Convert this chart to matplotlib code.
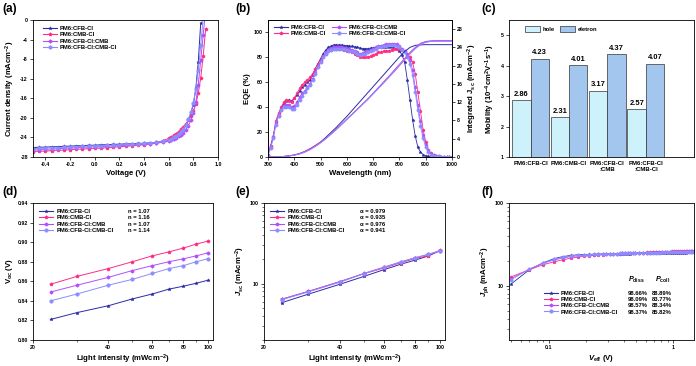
import matplotlib
matplotlib.use("Agg")
import matplotlib.pyplot as plt
from matplotlib.legend import Legend
from matplotlib.lines import Line2D
from matplotlib.ticker import FixedLocator, FormatStrFormatter, NullFormatter

plt.rcParams.update({
    "font.family": ["Liberation Sans", "DejaVu Sans"],
    "font.weight": "bold",
    "axes.labelweight": "bold",
    "axes.unicode_minus": False,
    "mathtext.fontset": "custom",
    "mathtext.rm": "Liberation Sans:bold",
    "mathtext.bf": "Liberation Sans:bold",
    "mathtext.it": "Liberation Sans:italic:bold",
    "mathtext.default": "rm",
    "axes.linewidth": 0.6,
    "xtick.direction": "out",
    "ytick.direction": "out",
    "xtick.major.size": 2.2,
    "ytick.major.size": 2.2,
    "xtick.minor.size": 1.2,
    "ytick.minor.size": 1.2,
    "xtick.major.width": 0.5,
    "ytick.major.width": 0.5,
    "xtick.minor.width": 0.4,
    "ytick.minor.width": 0.4,
    "xtick.major.pad": 1.5,
    "ytick.major.pad": 1.5,
    "xtick.labelsize": 3.8,
    "ytick.labelsize": 3.8,
    "axes.labelsize": 5.6,
})

names = ["PM6:CFB-Cl", "PM6:CMB-Cl", "PM6:CFB-Cl:CMB", "PM6:CFB-Cl:CMB-Cl"]
colors = ["#2b2ba6", "#ff2d82", "#b24dff", "#8c8cff"]
markers = ["*", "p", "h", "o"]

# (a) J-V
volt = [-0.50, -0.45, -0.40, -0.35, -0.30, -0.25, -0.20, -0.15, -0.10, -0.05, 0.00, 0.05,
        0.10, 0.15, 0.20, 0.25, 0.30, 0.35, 0.40, 0.45, 0.50, 0.55, 0.60,
        0.62, 0.64, 0.66, 0.68, 0.70, 0.72, 0.74, 0.76, 0.78, 0.80, 0.82, 0.84, 0.86, 0.88, 0.90, 0.92]
jv_cfb = [-26.1, -26.0, -26.0, -25.9, -25.9, -25.8, -25.8, -25.7, -25.7, -25.6, -25.6, -25.5,
          -25.5, -25.4, -25.4, -25.3, -25.3, -25.2, -25.2, -25.1, -25.0, -24.8, -24.6,
          -24.4, -24.1, -23.8, -23.4, -22.9, -22.3, -21.5, -20.4, -19.0, -17.3, -14.0, -8.6, -0.6]
jv_cmb = [-26.9, -26.8, -26.8, -26.7, -26.6, -26.6, -26.5, -26.4, -26.4, -26.3, -26.2, -26.2,
          -26.1, -26.0, -25.9, -25.8, -25.7, -25.6, -25.5, -25.3, -25.1, -24.7, -24.2,
          -23.9, -23.6, -23.2, -22.8, -22.3, -21.8, -21.2, -20.5, -19.6, -18.6, -17.2, -15.0, -11.8, -7.3, -1.8]
jv_cfb_cmb = [-26.6, -26.5, -26.4, -26.4, -26.3, -26.2, -26.2, -26.1, -26.0, -26.0, -25.9, -25.9,
              -25.8, -25.7, -25.7, -25.6, -25.5, -25.4, -25.4, -25.3, -25.2, -25.0, -24.8,
              -24.6, -24.4, -24.1, -23.8, -23.5, -23.0, -22.4, -21.6, -20.5, -19.0, -16.8, -13.2, -8.2, -3.0, 2.0]
jv_cfb_cmbcl = [-26.3, -26.2, -26.2, -26.1, -26.1, -26.0, -26.0, -25.9, -25.8, -25.8, -25.7, -25.7,
                -25.6, -25.6, -25.5, -25.4, -25.4, -25.3, -25.2, -25.1, -25.0, -24.8, -24.5,
                -24.3, -24.0, -23.7, -23.3, -22.8, -22.2, -21.4, -20.3, -18.9, -17.0, -14.2, -10.3, -5.2, 0.5, 6.0]

# (b) EQE and integrated Jsc
wl = list(range(300, 1001, 10))
eqe_cfb = [2, 9, 17, 28, 34, 39, 43, 45, 46, 45, 47, 50, 53, 56, 58, 60, 62, 66, 71, 75, 79, 83, 86, 88,
           89, 90, 90, 90, 90, 89.5, 89.5, 89, 89, 88.5, 88, 87.5, 87, 87, 87, 87.5, 87.5, 88, 88, 88, 88,
           88, 88, 88, 87.5, 87, 85, 82, 76, 62, 46, 30, 17, 8, 4, 2, 1, 0.5, 0.3, 0, 0, 0, 0, 0, 0, 0, 0]
eqe_cmb = [2, 9, 16, 29, 35, 40, 44, 46, 45, 44, 47, 51, 55, 58, 60, 62, 64, 67, 71, 75, 78, 81, 83, 85,
           86, 87, 87, 87, 86.5, 86, 85.5, 85, 84, 83, 81.5, 80.5, 80, 80, 80.5, 81, 82, 83, 84, 84.5, 85,
           85, 85.5, 86, 86.5, 87, 87, 86, 85, 83, 80, 76, 67, 52, 37, 22, 12, 6, 3, 1.5, 0.8, 0.4, 0.2,
           0, 0, 0, 0]
eqe_cfb_cmb = [2, 8, 16, 27, 33, 38, 41, 42, 42, 40, 41, 44, 48, 51, 53, 56, 59, 63, 68, 73, 77, 81, 84,
               86, 87, 88, 88, 88, 88, 87.5, 87, 86.5, 86, 85, 84, 83, 83.5, 84, 85, 86, 87, 88, 89, 89.5,
               90, 90.5, 91, 91, 91, 90.5, 89, 87, 85, 82, 78, 70, 56, 42, 29, 18, 10, 5, 2.5, 1.5, 1,
               0.5, 0.3, 0.2, 0.1, 0, 0]
eqe_cfb_cmbcl = [1, 7, 15, 26, 33, 38, 40, 40, 40, 38.5, 38.5, 42, 46, 49, 52, 55, 58, 62, 67, 72, 76, 80,
                 83, 85, 86, 87, 87, 87, 87, 86.5, 86, 85.5, 85, 84, 83, 82, 82.5, 83, 84, 85, 86, 87, 88,
                 88.5, 89, 89.5, 90, 90, 90, 89.5, 88, 86, 84, 80, 75, 66, 52, 38, 25, 15, 8, 4, 2, 1.2,
                 0.8, 0.5, 0.3, 0.2, 0.2, 0.1, 0.1]
wl_int = list(range(300, 1001, 20))
jint_cfb = [0, 0.02, 0.05, 0.12, 0.25, 0.45, 0.75, 1.2, 1.8, 2.5, 3.3, 4.3, 5.4, 6.5, 7.7, 8.9, 10.2, 11.5,
            12.8, 14.1, 15.4, 16.7, 18.0, 19.3, 20.6, 21.9, 23.1, 24.0, 24.45, 24.55, 24.6, 24.6, 24.6,
            24.6, 24.6, 24.6]
jint_cmb = [0, 0.02, 0.05, 0.12, 0.25, 0.45, 0.75, 1.2, 1.8, 2.5, 3.2, 4.1, 5.1, 6.1, 7.2, 8.3, 9.4, 10.5,
            11.6, 12.7, 13.9, 15.1, 16.3, 17.5, 18.7, 20.0, 21.3, 22.6, 23.8, 24.7, 25.2, 25.35, 25.4,
            25.4, 25.4, 25.4]
jint_cfb_cmb = [0, 0.02, 0.05, 0.11, 0.22, 0.4, 0.68, 1.1, 1.65, 2.35, 3.15, 4.05, 5.05, 6.05, 7.15, 8.25,
                9.35, 10.45, 11.6, 12.75, 13.95, 15.2, 16.45, 17.7, 19.0, 20.3, 21.6, 22.9, 24.0, 24.9,
                25.3, 25.45, 25.5, 25.5, 25.5, 25.5]
jint_cfb_cmbcl = [0, 0.02, 0.05, 0.11, 0.22, 0.4, 0.66, 1.05, 1.6, 2.3, 3.1, 4.0, 5.0, 6.0, 7.1, 8.2, 9.3,
                  10.4, 11.5, 12.6, 13.8, 15.0, 16.2, 17.5, 18.8, 20.1, 21.4, 22.6, 23.7, 24.6, 25.1, 25.3,
                  25.35, 25.35, 25.35, 25.35]

# (c) mobility
mob_groups = ["PM6:CFB-Cl", "PM6:CMB-Cl", "PM6:CFB-Cl\n:CMB", "PM6:CFB-Cl\n:CMB-Cl"]
mob_hole = [2.86, 2.31, 3.17, 2.57]
mob_electron = [4.23, 4.01, 4.37, 4.07]

# (d), (e) light intensity dependence
light = [23.5, 30, 40, 50, 60, 70, 80, 90, 100]
voc_cfb = [0.821, 0.828, 0.835, 0.842, 0.847, 0.852, 0.855, 0.858, 0.861]
voc_cmb = [0.857, 0.865, 0.873, 0.880, 0.886, 0.890, 0.894, 0.898, 0.901]
voc_cfb_cmb = [0.849, 0.856, 0.864, 0.871, 0.876, 0.880, 0.883, 0.886, 0.889]
voc_cfb_cmbcl = [0.840, 0.847, 0.856, 0.862, 0.868, 0.873, 0.876, 0.880, 0.883]
n_values = ["n = 1.07", "n = 1.16", "n = 1.07", "n = 1.14"]
jsc_cfb = [5.8, 7.4, 9.8, 12.3, 14.9, 17.4, 19.6, 22.0, 25.5]
jsc_cmb = [6.4, 8.0, 10.6, 13.3, 15.6, 18.2, 20.5, 22.2, 25.8]
jsc_cfb_cmb = [6.4, 8.0, 10.5, 13.4, 16.0, 18.6, 21.0, 23.0, 25.5]
jsc_cfb_cmbcl = [6.3, 7.9, 10.4, 13.3, 15.9, 18.5, 20.9, 23.1, 25.4]
alpha_values = ["α = 0.979", "α = 0.935", "α = 0.976", "α = 0.941"]

# (f) Jph vs Veff
veff = [0.05, 0.07, 0.09, 0.11, 0.13, 0.15, 0.17, 0.19, 0.21, 0.23, 0.25, 0.27, 0.29, 0.31, 0.33, 0.35,
        0.37, 0.39, 0.41, 0.43, 0.45, 0.47, 0.49,
        0.53, 0.57, 0.61, 0.65, 0.69, 0.73, 0.77, 0.81, 0.85, 0.89, 0.93, 0.97, 1.01, 1.05, 1.09, 1.13,
        1.17, 1.21, 1.25, 1.29, 1.33, 1.37, 1.41, 1.45]
jph_cfb = [10.5, 15.6, 18.9, 21.2, 22.5, 23.2, 23.6, 23.8, 23.9, 24.0, 24.1, 24.1, 24.2, 24.2, 24.3, 24.3,
           24.3, 24.4, 24.4, 24.4, 24.4, 24.5, 24.5,
           24.5, 24.6, 24.6, 24.6, 24.7, 24.7, 24.7, 24.8, 24.8, 24.8, 24.9, 24.9, 24.9, 25.0, 25.0, 25.0,
           25.1, 25.1, 25.1, 25.2, 25.2, 25.2, 25.3, 25.3]
jph_cmb = [12.8, 15.6, 17.9, 19.4, 20.6, 21.5, 22.1, 22.6, 23.0, 23.3, 23.5, 23.7, 23.9, 24.0, 24.2, 24.3,
           24.4, 24.5, 24.6, 24.7, 24.8, 24.8, 24.9,
           25.0, 25.1, 25.2, 25.3, 25.4, 25.5, 25.6, 25.6, 25.7, 25.8, 25.8, 25.9, 26.0, 26.0, 26.1, 26.1,
           26.2, 26.2, 26.3, 26.3, 26.4, 26.4, 26.5, 26.5]
jph_cfb_cmb = [12.2, 15.8, 18.6, 20.4, 21.6, 22.4, 22.9, 23.2, 23.5, 23.7, 23.9, 24.0, 24.1, 24.2, 24.3,
               24.4, 24.4, 24.5, 24.6, 24.6, 24.7, 24.7, 24.8,
               24.9, 25.0, 25.0, 25.1, 25.2, 25.2, 25.3, 25.3, 25.4, 25.4, 25.5, 25.5, 25.6, 25.6, 25.7,
               25.7, 25.8, 25.8, 25.8, 25.9, 25.9, 26.0, 26.0, 26.0]
jph_cfb_cmbcl = [11.8, 15.9, 18.8, 20.8, 22.0, 22.8, 23.2, 23.5, 23.7, 23.9, 24.0, 24.1, 24.2, 24.3, 24.4,
                 24.4, 24.5, 24.5, 24.6, 24.6, 24.7, 24.7, 24.8,
                 24.8, 24.9, 24.9, 25.0, 25.0, 25.1, 25.1, 25.2, 25.2, 25.3, 25.3, 25.4, 25.4, 25.4, 25.5,
                 25.5, 25.5, 25.6, 25.6, 25.6, 25.7, 25.7, 25.7, 25.8]
p_diss = ["98.66%", "98.09%", "98.57%", "98.37%"]
p_coll = ["88.89%", "83.77%", "88.34%", "85.82%"]

W, H = 696, 366


def add_axes(fig, left, top, right, bottom):
    return fig.add_axes([left / W, 1 - bottom / H, (right - left) / W, (bottom - top) / H])


def series(ax, x, ys, ms=2.6, lw=0.7):
    for y, c, m in zip(ys, colors, markers):
        ax.plot(x[:len(y)], y, color=c, marker=m, ms=ms, lw=lw, mew=0.3, mec=c)


def handles(ms=2.6):
    return [Line2D([], [], color=c, marker=m, ms=ms, lw=0.8, mew=0.3) for c, m in zip(colors, markers)]


def legend(ax, anchor, labels=names, ncol=1, **kw):
    opts = dict(loc="upper left", bbox_to_anchor=anchor, frameon=False, fontsize=4.2, handlelength=2.4,
                handletextpad=0.5, labelspacing=0.2, borderpad=0, borderaxespad=0, columnspacing=1.2)
    opts.update(kw)
    leg = Legend(ax, handles(), labels, ncol=ncol, **opts)
    ax.add_artist(leg)
    return leg


def side_column(ax, anchor, labels):
    # text-only column, same row spacing as the series legend
    blank = [Line2D([], [], lw=0) for _ in labels]
    leg = Legend(ax, blank, labels, loc="upper left", bbox_to_anchor=anchor, frameon=False, fontsize=4.2,
                 handlelength=0, handletextpad=0, labelspacing=0.2, borderpad=0, borderaxespad=0)
    ax.add_artist(leg)
    return leg


fig = plt.figure(figsize=(W / 100, H / 100), dpi=100)

# (a)
ax = add_axes(fig, 33, 20, 218, 157)
series(ax, volt, [jv_cfb, jv_cmb, jv_cfb_cmb, jv_cfb_cmbcl])
ax.set_xlim(-0.5, 1.0)
ax.set_ylim(-28, 0)
ax.set_xticks([-0.4, -0.2, 0.0, 0.2, 0.4, 0.6, 0.8, 1.0])
ax.set_yticks(range(-28, 1, 4))
ax.xaxis.set_major_formatter(FormatStrFormatter("%.1f"))
ax.set_xlabel("Voltage (V)", labelpad=2)
ax.set_ylabel("Current density (mAcm$^{-2}$)", labelpad=2)
legend(ax, (0.055, 0.955))

# (b)
ax = add_axes(fig, 268, 20, 452, 157)
series(ax, wl, [eqe_cfb, eqe_cmb, eqe_cfb_cmb, eqe_cfb_cmbcl], ms=2.4, lw=0.6)
ax.set_xlim(300, 1000)
ax.set_ylim(0, 110)
ax.set_xticks(range(300, 1001, 100))
ax.set_yticks(range(0, 101, 20))
ax.set_xlabel("Wavelength (nm)", labelpad=2)
ax.set_ylabel("EQE (%)", labelpad=2)
legend(ax, (0.03, 0.965), ncol=2, columnspacing=1.0)
ax2 = ax.twinx()
for y, c in zip([jint_cfb, jint_cmb, jint_cfb_cmb, jint_cfb_cmbcl], colors):
    ax2.plot(wl_int, y, color=c, lw=0.7)
ax2.set_ylim(0, 30)
ax2.set_yticks(range(0, 29, 4))
ax2.set_ylabel("Integrated J$_{sc}$ (mAcm$^{-2}$)", labelpad=2)

# (c)
ax = add_axes(fig, 509, 20, 694, 157)
pos = list(range(len(mob_groups)))
bw = 0.48
ax.bar([p - bw / 2 for p in pos], [v - 1 for v in mob_hole], bw, bottom=1, color="#cdf2fc",
       edgecolor="#333333", lw=0.5, label="hole")
ax.bar([p + bw / 2 for p in pos], [v - 1 for v in mob_electron], bw, bottom=1, color="#a2c6ee",
       edgecolor="#333333", lw=0.5, label="eletron")
for p, v in zip(pos, mob_hole):
    ax.text(p - bw / 2, v + 0.08, f"{v:.2f}", ha="center", va="bottom", fontsize=5.4, fontweight="bold")
for p, v in zip(pos, mob_electron):
    ax.text(p + bw / 2, v + 0.08, f"{v:.2f}", ha="center", va="bottom", fontsize=5.4, fontweight="bold")
ax.set_xlim(-0.56, 4.25)
ax.set_ylim(1, 5.5)
ax.set_yticks([1, 2, 3, 4, 5])
ax.set_xticks(pos)
ax.set_xticklabels(mob_groups, fontsize=4.3, linespacing=1.15)
ax.tick_params(axis="x", length=0, pad=3)
ax.set_ylabel("Mobility (10$^{-4}$cm$^{2}$V$^{-1}$s$^{-1}$)", labelpad=3)
ax.legend(loc="upper left", bbox_to_anchor=(0.07, 0.975), ncol=2, frameon=False, fontsize=4.2,
          handlelength=2.6, handleheight=1.0, handletextpad=0.4, columnspacing=1.0, borderpad=0)


def light_axis(ax):
    ax.set_xscale("log")
    ax.set_xlim(20, 105)
    ax.xaxis.set_major_locator(FixedLocator([20, 40, 60, 80, 100]))
    ax.xaxis.set_major_formatter(FormatStrFormatter("%d"))
    ax.xaxis.set_minor_locator(FixedLocator([30, 50, 70, 90]))
    ax.xaxis.set_minor_formatter(NullFormatter())
    ax.set_xlabel("Light intensity (mWcm$^{-2}$)", labelpad=2)


# (d)
ax = add_axes(fig, 33, 203, 213, 340)
series(ax, light, [voc_cfb, voc_cmb, voc_cfb_cmb, voc_cfb_cmbcl])
light_axis(ax)
ax.set_ylim(0.80, 0.94)
ax.set_yticks([0.80, 0.82, 0.84, 0.86, 0.88, 0.90, 0.92, 0.94])
ax.yaxis.set_major_formatter(FormatStrFormatter("%.2f"))
ax.set_ylabel("V$_{oc}$ (V)", labelpad=2)
legend(ax, (0.035, 0.955))
side_column(ax, (0.53, 0.955), n_values)

# (e)
ax = add_axes(fig, 264, 203, 445, 340)
series(ax, light, [jsc_cfb, jsc_cmb, jsc_cfb_cmb, jsc_cfb_cmbcl])
light_axis(ax)
ax.set_yscale("log")
ax.set_ylim(2, 100)
ax.yaxis.set_major_locator(FixedLocator([10, 100]))
ax.yaxis.set_major_formatter(FormatStrFormatter("%d"))
ax.yaxis.set_minor_formatter(NullFormatter())
ax.set_ylabel("$\\mathit{J}_{sc}$ (mAcm$^{-2}$)", labelpad=2)
legend(ax, (0.035, 0.955))
side_column(ax, (0.53, 0.955), alpha_values)

# (f)
ax = add_axes(fig, 509, 203, 694, 340)
series(ax, veff, [jph_cfb, jph_cmb, jph_cfb_cmb, jph_cfb_cmbcl], ms=2.4, lw=0.6)
ax.set_xscale("log")
ax.set_yscale("log")
ax.set_xlim(0.048, 1.46)
ax.set_ylim(2.2, 100)
ax.xaxis.set_major_locator(FixedLocator([0.1, 1]))
ax.xaxis.set_major_formatter(FormatStrFormatter("%g"))
ax.xaxis.set_minor_formatter(NullFormatter())
ax.yaxis.set_major_locator(FixedLocator([10, 100]))
ax.yaxis.set_major_formatter(FormatStrFormatter("%d"))
ax.yaxis.set_minor_formatter(NullFormatter())
ax.set_xlabel("$\\mathit{V}_{eff}$ (V)", labelpad=2)
ax.set_ylabel("$\\mathit{J}_{ph}$ (mAcm$^{-2}$)", labelpad=2)
legend(ax, (0.19, 0.36))
side_column(ax, (0.64, 0.36), p_diss)
side_column(ax, (0.77, 0.36), p_coll)
ax.text(0.69, 0.405, "$\\mathit{P}_{diss}$", transform=ax.transAxes, fontsize=5.2, ha="center", va="bottom")
ax.text(0.83, 0.405, "$\\mathit{P}_{coll}$", transform=ax.transAxes, fontsize=5.2, ha="center", va="bottom")

for label, x, y in [("(a)", 2, 3), ("(b)", 235, 3), ("(c)", 481, 3),
                    ("(d)", 2, 186), ("(e)", 235, 186), ("(f)", 481, 186)]:
    fig.text(x / W, 1 - y / H, label, fontsize=8.5, fontweight="bold", ha="left", va="top")

fig.savefig("out.png", dpi=100)
